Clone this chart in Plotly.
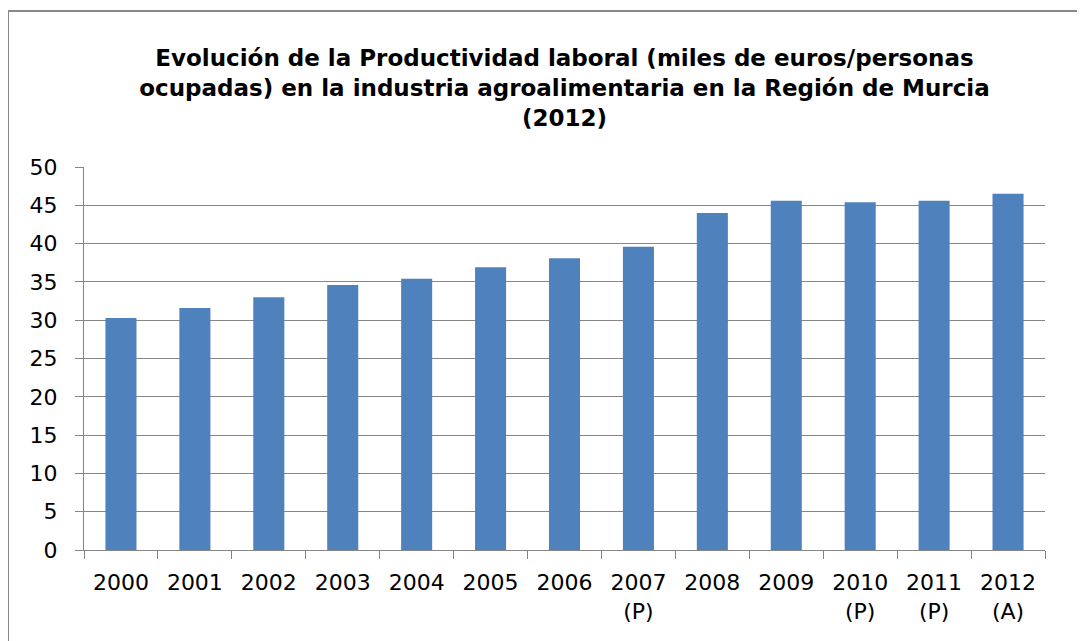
import plotly.graph_objects as go

categories = ["2000", "2001", "2002", "2003", "2004", "2005", "2006",
              "2007<br>(P)", "2008", "2009", "2010<br>(P)", "2011<br>(P)", "2012<br>(A)"]
values = [30.3, 31.6, 33.0, 34.6, 35.4, 36.9, 38.1, 39.6, 44.0, 45.6, 45.4, 45.6, 46.5]
y_ticks = [0, 5, 10, 15, 20, 25, 30, 35, 40, 45, 50]

title_text = ("Evolución de la Productividad laboral (miles de euros/personas<br>"
              "ocupadas) en la industria agroalimentaria en la Región de Murcia<br>"
              "(2012)")

grid = "#868686"
fig = go.Figure(go.Bar(x=categories, y=values, marker_color="#4F81BD",
                       marker_line_width=0))

fig.update_layout(
    width=1085, height=641,
    margin=dict(l=76, r=48, t=159, b=99, autoexpand=False),
    paper_bgcolor="white", plot_bgcolor="white",
    bargap=0.58,
    showlegend=False,
    font=dict(family="DejaVu Sans", color="black"),
    title=dict(text="<b>" + title_text + "</b>", x=0.5, xanchor="center",
               xref="paper",
               y=1 - 58 / 641, yanchor="middle",
               font=dict(family="DejaVu Sans", size=23, color="black")),
    xaxis=dict(type="category", tickson="boundaries", ticks="outside", ticklen=8,
               tickcolor=grid, showline=True, linecolor=grid, linewidth=1,
               showgrid=False, tickfont=dict(size=22), ticklabelstandoff=13),
    yaxis=dict(range=[0, 50], tickvals=y_ticks, ticks="outside", ticklen=8,
               tickcolor=grid, showline=True, linecolor=grid, linewidth=1,
               showgrid=True, gridcolor=grid, gridwidth=1, zeroline=False,
               tickfont=dict(size=22), ticklabelstandoff=13),
    shapes=[dict(type="rect", xref="paper", yref="paper",
                 x0=(8 - 84) / 961, x1=1.2, y0=-0.5, y1=(550 - 11) / 383,
                 line=dict(color="#888888", width=2), fillcolor="rgba(0,0,0,0)",
                 layer="below")],
)

fig.write_html("out.html")
